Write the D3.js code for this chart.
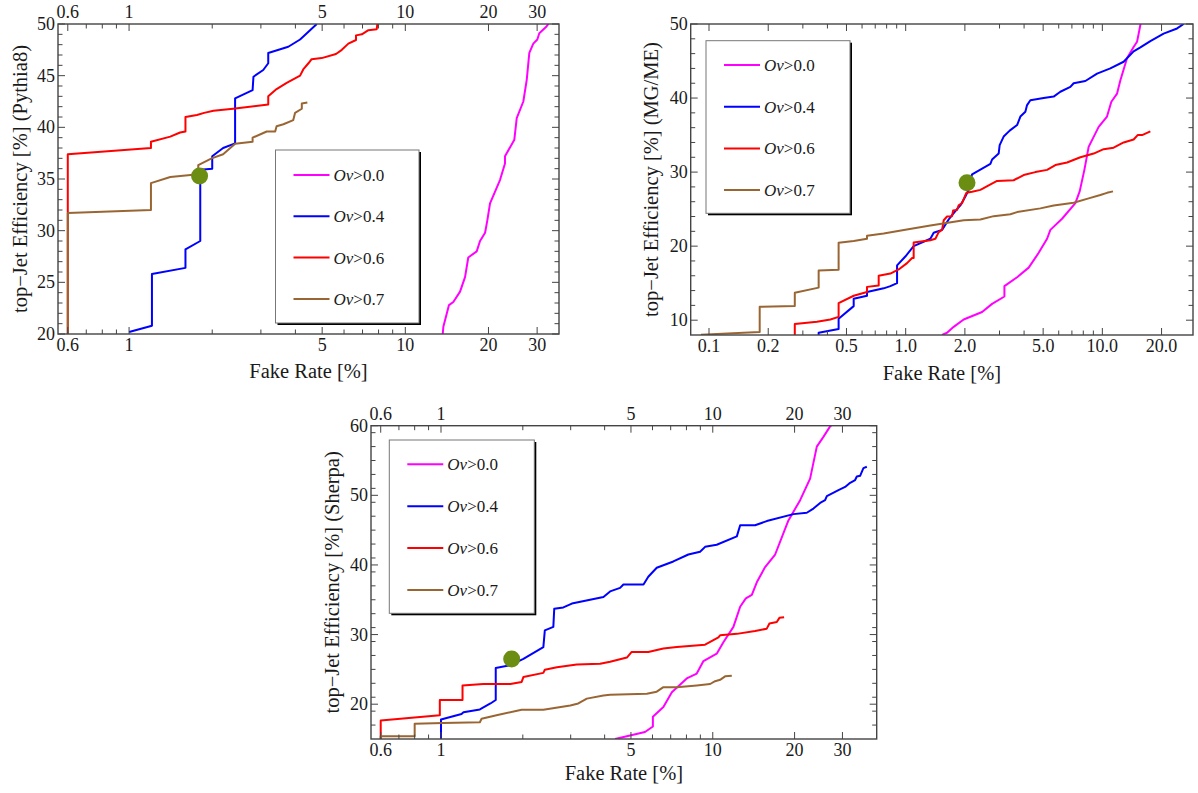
<!DOCTYPE html>
<html><head><meta charset="utf-8">
<script src="https://cdn.jsdelivr.net/npm/d3@7"></script>
<style>
body{margin:0;background:#fff;}
svg{display:block;}
text{font-family:"Liberation Serif","Times New Roman",serif;fill:#1a1a1a;}
</style></head><body>
<svg id="chart" width="1198" height="793"></svg>
<script>
// ---------------- DATA ----------------
const seriesNames = ["0.0", "0.4", "0.6", "0.7"];

// Pythia8 panel: [fake rate %, efficiency %]
const pythiaOv00 = [[13.66,20],[13.73,20.7],[14.39,22.8],[14.92,23.1],[15.78,24.1],[16.45,25.5],[16.9,27.4],[18.13,28.0],[18.64,29.0],[19.44,29.8],[19.81,31.0],[20.26,32.65],[22.01,34.9],[22.95,36.5],[22.95,37.2],[24.81,38.8],[25.31,40.9],[26.74,42.5],[27.51,44.6],[28.11,47.2],[29.06,48.1],[30.05,48.5],[30.55,49.1],[32.3,49.7],[32.93,50]];
const pythiaOv04 = [[1.0,20.2],[1.21,20.8],[1.21,25.8],[1.60,26.4],[1.60,28.2],[1.81,29.0],[1.81,35.9],[2.0,36.0],[2.0,37.2],[2.19,38.0],[2.42,38.45],[2.42,42.8],[2.80,43.6],[2.82,44.9],[3.06,45.55],[3.19,46.2],[3.19,47.2],[3.77,47.8],[4.16,48.5],[4.40,49.1],[4.78,50]];
const pythiaOv06 = [[0.6,20],[0.6,37.4],[1.20,38.0],[1.20,38.6],[1.41,39.1],[1.53,39.5],[1.60,39.6],[1.60,41.0],[1.76,41.2],[1.87,41.4],[2.02,41.6],[2.38,41.8],[3.19,42.2],[3.19,43.0],[3.42,43.7],[3.72,44.3],[4.16,45.0],[4.27,45.6],[4.46,46.2],[4.58,46.6],[4.98,46.7],[5.61,47.1],[5.89,47.5],[6.22,48.1],[6.63,48.45],[6.63,48.9],[6.96,49.0],[7.35,49.4],[7.88,49.5],[7.92,50]];
const pythiaOv07 = [[0.6,20],[0.6,31.7],[1.20,32.0],[1.20,34.6],[1.41,35.2],[1.78,35.45],[1.78,36.35],[1.99,37.0],[2.19,37.4],[2.42,38.4],[2.80,38.6],[2.80,39.0],[3.15,39.6],[3.38,39.6],[3.42,40.1],[3.62,40.3],[3.93,40.7],[3.99,41.4],[4.22,41.8],[4.22,42.3],[4.42,42.4]];
const pythiaPoint = [1.80, 35.3];

// MG/ME panel
const mgmeOv00 = [[1.531,8],[1.623,8.3],[1.754,9.1],[1.972,10.1],[2.446,11.1],[2.75,12.2],[3.177,13.2],[3.177,14.6],[3.685,15.8],[4.221,17.1],[4.746,19.1],[5.235,21.0],[5.441,22.2],[6.239,23.7],[7.291,25.8],[7.668,27.4],[8.102,30.3],[8.517,33.4],[9.577,36.1],[10.56,37.5],[11.11,39.5],[11.88,40.6],[12.35,42.4],[13.36,45.4],[14.42,46.9],[15.01,47.6],[15.3,48.7],[15.61,49.9],[15.7,50]];
const mgmeOv04 = [[0.361,8],[0.361,8.3],[0.456,8.8],[0.456,10.2],[0.544,11.9],[0.544,12.9],[0.636,13.3],[0.636,13.8],[0.773,14.3],[0.836,14.6],[0.904,15.0],[0.904,17.4],[0.996,18.6],[1.098,20.0],[1.335,21.0],[1.388,21.8],[1.531,22.2],[1.654,23.6],[1.721,24.2],[1.825,25.0],[1.897,25.5],[2.011,26.7],[2.091,27.6],[2.091,28.0],[2.176,29.7],[2.696,31.1],[2.75,31.7],[2.97,32.5],[3.005,33.65],[3.149,34.8],[3.379,35.6],[3.685,36.35],[3.83,37.5],[4.059,38.15],[4.142,39.05],[4.305,39.7],[5.03,40.0],[5.655,40.2],[6.116,40.85],[6.876,41.5],[7.147,42.0],[8.196,42.3],[9.4,43.3],[10.98,44.0],[12.83,44.9],[14.42,46.3],[15.61,46.85],[17.54,47.7],[20.49,48.7],[23.98,49.4],[25.9,50]];
const mgmeOv06 = [[0.273,8],[0.273,9.5],[0.354,9.8],[0.414,10.1],[0.456,10.45],[0.456,12.3],[0.544,13.3],[0.636,13.8],[0.636,14.5],[0.729,14.7],[0.729,16.0],[0.836,16.3],[0.921,16.85],[1.016,17.7],[1.078,18.4],[1.098,18.4],[1.098,20.5],[1.335,20.8],[1.416,21.0],[1.472,21.9],[1.531,22.2],[1.561,23.5],[1.623,24.0],[1.721,24.05],[1.742,24.8],[1.825,24.9],[1.859,25.5],[1.935,25.8],[2.011,26.9],[2.035,27.2],[2.176,27.35],[2.398,27.6],[2.642,28.2],[2.915,28.8],[3.541,28.9],[3.98,29.6],[4.564,30.0],[5.235,30.3],[5.769,30.95],[6.615,31.3],[7.731,32.0],[9.033,32.5],[10.15,33.1],[11.41,33.3],[12.83,34.0],[14.42,34.4],[15.12,35.0],[15.92,35.0],[17.54,35.5]];
const mgmeOv07 = [[0.091,8.05],[0.181,8.4],[0.181,11.8],[0.273,11.9],[0.273,13.7],[0.361,14.4],[0.361,16.7],[0.456,16.8],[0.456,20.45],[0.544,20.7],[0.636,21.0],[0.636,21.4],[0.773,21.7],[0.996,22.2],[1.335,22.8],[1.972,23.5],[2.398,23.6],[2.802,24.05],[3.406,24.3],[3.685,24.6],[4.839,25.1],[5.655,25.5],[7.147,25.85],[8.517,26.45],[9.768,26.9],[10.56,27.2],[11.33,27.4]];
const mgmePoint = [2.05, 28.55];

// Sherpa panel
const sherpaOv00 = [[4.37,15],[4.96,15.5],[5.63,16.0],[6.02,16.8],[6.02,18.2],[6.58,19.6],[7.07,21.7],[8.02,23.7],[8.73,24.4],[9.24,26.2],[10.34,27.25],[10.94,28.9],[11.91,31.1],[12.61,34.0],[13.23,35.2],[13.92,35.7],[14.52,37.5],[15.58,39.7],[16.96,41.5],[18.98,46.4],[20.96,49.3],[22.81,52.4],[24.14,57.0],[25.53,58.4],[27.02,59.9],[27.3,60]];
const sherpaOv04 = [[1.0,15],[1.0,17.8],[1.19,18.6],[1.21,18.85],[1.39,19.25],[1.52,20.1],[1.59,20.6],[1.59,25.2],[1.80,25.6],[2.01,26.5],[2.38,28.2],[2.41,30.6],[2.59,31.1],[2.61,33.7],[2.82,33.9],[3.03,34.45],[3.96,35.4],[4.19,36.2],[4.56,36.7],[4.69,37.2],[5.56,37.2],[5.79,38.3],[6.22,39.6],[7.16,40.5],[8.13,41.5],[8.98,41.9],[9.37,42.6],[10.34,42.9],[12.26,44.1],[12.61,45.7],[14.31,45.7],[15.8,46.3],[19.8,47.3],[22.18,47.5],[23.46,48.1],[24.83,48.9],[25.9,49.3],[26.28,49.9],[29.0,50.75],[30.69,51.2],[32.02,51.8],[33.4,52.2],[33.88,52.7],[34.84,52.8],[35.83,53.9],[36.88,54.1]];
const sherpaOv06 = [[0.60,15],[0.60,17.65],[0.99,18.4],[0.99,20.6],[1.20,20.6],[1.20,22.7],[1.43,22.9],[1.80,22.9],[1.98,23.2],[2.01,23.9],[2.38,24.5],[2.41,24.95],[2.67,25.3],[3.16,25.7],[3.85,25.8],[4.19,26.1],[4.83,26.7],[5.03,27.5],[5.79,27.5],[6.58,28.0],[7.37,28.2],[9.37,28.55],[10.05,29.2],[10.49,29.6],[10.64,29.9],[12.26,30.1],[14.31,30.5],[15.8,30.85],[16.16,31.6],[17.2,31.8],[17.59,32.4],[18.3,32.5]];
const sherpaOv07 = [[0.60,15],[0.60,15.4],[0.80,15.4],[0.80,17.2],[1.02,17.3],[1.39,17.4],[1.41,17.9],[1.60,18.4],[1.98,19.2],[2.38,19.2],[2.99,19.8],[3.20,20.1],[3.44,20.8],[3.96,21.25],[4.19,21.35],[5.72,21.5],[6.22,21.8],[6.58,22.45],[7.37,22.45],[8.73,22.7],[9.78,22.9],[10.2,23.3],[10.64,23.5],[11.1,24.0],[11.75,24.1]];
const sherpaPoint = [1.82, 26.5];

// tick labels
const xLabelsA = [0.6, 1, 5, 10, 20, 30];
const xMinorA = [0.7, 0.8, 0.9, 2, 3, 4, 6, 7, 8, 9];
const xLabelsB = [0.1, 0.2, 0.5, 1, 2, 5, 10, 20];
const xMinorB = [0.3, 0.4, 0.6, 0.7, 0.8, 0.9, 3, 4, 6, 7, 8, 9];
const yLabelsPythia = [20, 25, 30, 35, 40, 45, 50];
const yLabelsMgme = [10, 20, 30, 40, 50];
const yLabelsSherpa = [20, 30, 40, 50, 60];

// ---------------- STYLE / LAYOUT ----------------
const colors = ["#ff00ff", "#0000ff", "#ff0000", "#996633"];
const dotColor = "#6b8e12";
const frameColor = "#444";

const panels = [
  { name: "Pythia8", series: [pythiaOv00, pythiaOv04, pythiaOv06, pythiaOv07], point: pythiaPoint,
    L: 58, R: 559, T: 24, B: 334, xd: [0.553, 36], yd: [20, 50],
    xLab: xLabelsA, xMin: xMinorA, xFmt: d => String(d), topLabels: true,
    yLab: yLabelsPythia, yMinorStep: 1,
    legend: { x: 275.5, y: 150, w: 143.5, h: 173, first: 25, gap: 41.3 },
    yTitle: "top−Jet Efficiency [%] (Pythia8)", yTitleX: 20, xTitleY: 378 },
  { name: "MGME", series: [mgmeOv00, mgmeOv04, mgmeOv06, mgmeOv07], point: mgmePoint,
    L: 690.7, R: 1193, T: 24, B: 335, xd: [0.0807, 28.9], yd: [8, 50],
    xLab: xLabelsB, xMin: xMinorB, xFmt: d => d.toFixed(1), topLabels: false,
    yLab: yLabelsMgme, yMinorStep: 2,
    legend: { x: 706, y: 40.7, w: 144, h: 172.6, first: 24.3, gap: 41.7 },
    yTitle: "top−Jet Efficiency [%] (MG/ME)", yTitleX: 651, xTitleY: 380 },
  { name: "Sherpa", series: [sherpaOv00, sherpaOv04, sherpaOv06, sherpaOv07], point: sherpaPoint,
    L: 371, R: 876.7, T: 425.7, B: 739, xd: [0.5526, 40.1], yd: [15, 60],
    xLab: xLabelsA, xMin: xMinorA, xFmt: d => String(d), topLabels: true,
    yLab: yLabelsSherpa, yMinorStep: 2,
    legend: { x: 389.3, y: 440, w: 145, h: 173.3, first: 24.3, gap: 41.9 },
    yTitle: "top−Jet Efficiency [%] (Sherpa)", yTitleX: 331.7, xTitleY: 780 }
];

const svg = d3.select("#chart");

panels.forEach((p, pi) => {
  const x = d3.scaleLog().domain(p.xd).range([p.L, p.R]);
  const y = d3.scaleLinear().domain(p.yd).range([p.B, p.T]);
  const g = svg.append("g");
  const clipId = "clip" + pi;
  svg.append("defs").append("clipPath").attr("id", clipId)
    .append("rect").attr("x", p.L).attr("y", p.T).attr("width", p.R - p.L).attr("height", p.B - p.T);

  // curves
  const line = d3.line().x(d => x(d[0])).y(d => y(d[1]));
  const cg = g.append("g").attr("clip-path", `url(#${clipId})`);
  p.series.forEach((s, i) => {
    cg.append("path").datum(s).attr("d", line)
      .attr("fill", "none").attr("stroke", colors[i]).attr("stroke-width", 2)
      .attr("stroke-linejoin", "round");
  });
  cg.append("circle").attr("cx", x(p.point[0])).attr("cy", y(p.point[1])).attr("r", 8.5).attr("fill", dotColor);

  // legend
  const lg = p.legend;
  g.append("rect").attr("x", lg.x + 2).attr("y", lg.y + 2).attr("width", lg.w).attr("height", lg.h).attr("fill", "#000");
  g.append("rect").attr("x", lg.x).attr("y", lg.y).attr("width", lg.w).attr("height", lg.h)
    .attr("fill", "#fff").attr("stroke", "#777").attr("stroke-width", 1);
  seriesNames.forEach((nm, i) => {
    const yy = lg.y + lg.first + i * lg.gap;
    g.append("line").attr("x1", lg.x + 18).attr("x2", lg.x + 54).attr("y1", yy).attr("y2", yy)
      .attr("stroke", colors[i]).attr("stroke-width", 2);
    const t = g.append("text").attr("x", lg.x + 58).attr("y", yy + 6).attr("font-size", 17);
    t.append("tspan").attr("font-style", "italic").text("Ov");
    t.append("tspan").text(">" + nm);
  });

  // frame
  g.append("rect").attr("x", p.L).attr("y", p.T).attr("width", p.R - p.L).attr("height", p.B - p.T)
    .attr("fill", "none").attr("stroke", frameColor).attr("stroke-width", 1.4);

  // x ticks (bottom + top)
  const tk = g.append("g").attr("stroke", frameColor).attr("stroke-width", 1);
  const xAll = p.xLab.map(v => [v, 7]).concat(p.xMin.map(v => [v, 4.5]))
    .filter(d => d[0] >= p.xd[0] && d[0] <= p.xd[1]);
  xAll.forEach(([v, len]) => {
    const px = x(v);
    tk.append("line").attr("x1", px).attr("x2", px).attr("y1", p.B).attr("y2", p.B - len);
    tk.append("line").attr("x1", px).attr("x2", px).attr("y1", p.T).attr("y2", p.T + len);
  });
  p.xLab.forEach(v => {
    g.append("text").attr("x", x(v)).attr("y", p.B + 17).attr("text-anchor", "middle")
      .attr("font-size", 18).text(p.xFmt(v));
    if (p.topLabels) {
      g.append("text").attr("x", x(v)).attr("y", p.T - 6).attr("text-anchor", "middle")
        .attr("font-size", 18).text(p.xFmt(v));
    }
  });

  // y ticks (left + right)
  const yMinors = d3.range(Math.ceil(p.yd[0]), p.yd[1] + 0.001, p.yMinorStep)
    .filter(v => !p.yLab.includes(v) && v > p.yd[0] && v < p.yd[1]);
  p.yLab.map(v => [v, 7]).concat(yMinors.map(v => [v, 4.5])).forEach(([v, len]) => {
    const py = y(v);
    tk.append("line").attr("x1", p.L).attr("x2", p.L + len).attr("y1", py).attr("y2", py);
    tk.append("line").attr("x1", p.R).attr("x2", p.R - len).attr("y1", py).attr("y2", py);
  });
  p.yLab.forEach(v => {
    g.append("text").attr("x", p.L - 3).attr("y", y(v) + 6).attr("text-anchor", "end")
      .attr("font-size", 18).text(v);
  });

  // titles
  g.append("text").attr("x", (p.L + p.R) / 2).attr("y", p.xTitleY).attr("text-anchor", "middle")
    .attr("font-size", 20.5).text("Fake Rate [%]");
  g.append("text").attr("transform", `translate(${p.yTitleX + 7},${(p.T + p.B) / 2}) rotate(-90)`)
    .attr("text-anchor", "middle").attr("font-size", 20.5).text(p.yTitle);
});
</script>
</body></html>
